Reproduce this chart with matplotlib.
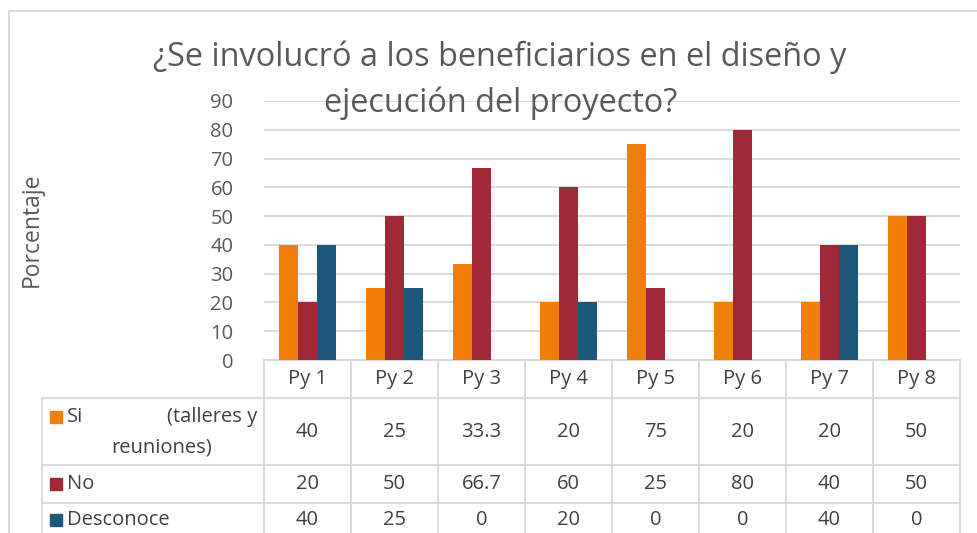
import matplotlib
matplotlib.use("Agg")
import matplotlib.pyplot as plt
from matplotlib.transforms import blended_transform_factory
from matplotlib.patches import Rectangle
from matplotlib.lines import Line2D

categories = ["Py 1", "Py 2", "Py 3", "Py 4", "Py 5", "Py 6", "Py 7", "Py 8"]
si = [40, 25, 33.3, 20, 75, 20, 20, 50]
no = [20, 50, 66.7, 60, 25, 80, 40, 50]
desconoce = [40, 25, 0, 20, 0, 0, 40, 0]
series = [si, no, desconoce]
colors = ["#F07F09", "#9F2936", "#1B587C"]
yticks = list(range(0, 100, 10))
title_lines = ["¿Se involucró a los beneficiarios en el diseño y",
               "ejecución del proyecto?"]
ylabel = "Porcentaje"

plt.rcParams['font.family'] = ['Open Sans', 'DejaVu Sans']
TXT = "#595959"
NUM = "#404040"
GRID = "#d9d9d9"
FS = 14.5

W, H = 977, 533
fig = plt.figure(figsize=(W / 100, H / 100), dpi=100)


def fx(x):
    return x / W


def fy(y):
    return 1 - y / H


ax = fig.add_axes([fx(264), fy(360), fx(960) - fx(264), fy(101) - fy(360)])
n = len(categories)
w = 19.3 / 87
for j, (vals, c) in enumerate(zip(series, colors)):
    xs = [i + (j - 1) * w for i in range(n)]
    ax.bar(xs, vals, width=w, color=c, zorder=3)

ax.set_xlim(-0.5, n - 0.5)
ax.set_ylim(0, 90)
ax.set_yticks(yticks)
ax.set_yticklabels([str(t) for t in yticks], fontsize=FS, color=TXT)
ax.tick_params(axis='y', length=0, pad=22)
ax.set_xticks([])
ax.grid(axis='y', color=GRID, lw=1.3, zorder=0)
for s in ['top', 'right', 'left']:
    ax.spines[s].set_visible(False)
ax.spines['bottom'].set_color(GRID)
ax.spines['bottom'].set_linewidth(1.3)

# chart outer border
fig.add_artist(Line2D([fx(9), fx(977)], [fy(11), fy(11)], color=GRID, lw=1.3))
fig.add_artist(Line2D([fx(9), fx(9)], [fy(11), fy(533)], color=GRID, lw=1.3))

# title and axis label
fig.text(fx(500), fy(57), title_lines[0], ha='center', va='center', fontsize=23.4,
         color=TXT)
fig.text(fx(501), fy(103), title_lines[1], ha='center', va='center', fontsize=23.4,
         color=TXT)
fig.text(fx(32), fy(230), ylabel, rotation=90, ha='center', va='center',
         fontsize=16.5, color=TXT)

# data table
tr = blended_transform_factory(ax.transData, fig.transFigure)
tline = dict(color=GRID, lw=1.3, clip_on=False)
for i in range(n + 1):
    xb = i - 0.5
    fig.add_artist(Line2D([xb, xb], [fy(360), fy(533)], transform=tr, **tline))
for yl in [398, 465, 503]:
    fig.add_artist(Line2D([fx(42), fx(960)], [fy(yl), fy(yl)], **tline))
fig.add_artist(Line2D([fx(42), fx(42)], [fy(398), fy(533)], **tline))

for i, cat in enumerate(categories):
    fig.text(i, fy(379), cat, transform=tr, ha='center', va='center',
             fontsize=FS, color=NUM)

row_centers = [432, 484, 520]
for vals, yc in zip(series, row_centers):
    for i, v in enumerate(vals):
        fig.text(i, fy(yc), f"{v:g}", transform=tr, ha='center', va='center',
                 fontsize=FS, color=NUM)

key_rows = [(417, "Si"), (484, "No"), (520, "Desconoce")]
for (yc, lab), c in zip(key_rows, colors):
    fig.add_artist(Rectangle((fx(50), fy(yc + 6)), fx(12), 12 / H, color=c,
                             transform=fig.transFigure))
    fig.text(fx(67), fy(yc), lab, ha='left', va='center', fontsize=FS, color=NUM)
fig.text(fx(257), fy(417), "(talleres y", ha='right', va='center', fontsize=FS, color=NUM)
fig.text(fx(162), fy(447), "reuniones)", ha='center', va='center', fontsize=FS, color=NUM)

fig.savefig("out.png", dpi=100, facecolor='white')
